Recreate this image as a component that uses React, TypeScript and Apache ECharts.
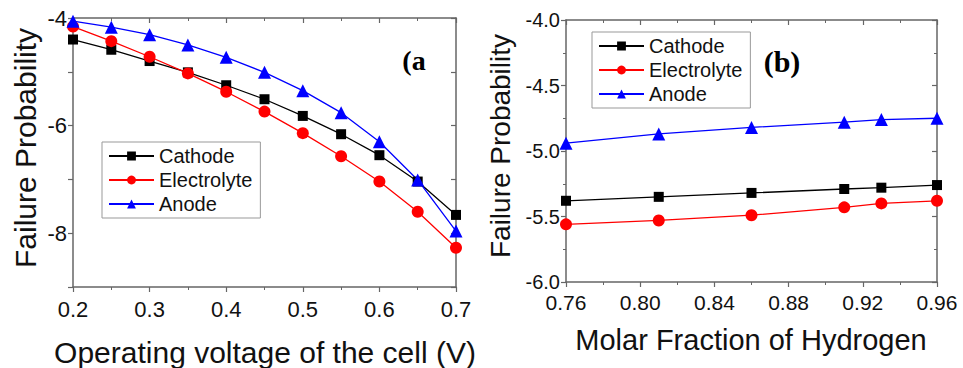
import React, { useEffect, useRef } from "react";
import * as echarts from "echarts";

// Panel (a): operating voltage
const voltage = [0.2, 0.25, 0.3, 0.35, 0.4, 0.45, 0.5, 0.55, 0.6, 0.65, 0.7];
const cathodeA = [-4.4, -4.59, -4.8, -5.01, -5.25, -5.51, -5.82, -6.16, -6.55, -7.04, -7.66];
const electrolyteA = [-4.16, -4.43, -4.72, -5.03, -5.37, -5.74, -6.14, -6.57, -7.04, -7.6, -8.27];
const anodeA = [-4.06, -4.17, -4.31, -4.5, -4.73, -5.01, -5.35, -5.76, -6.3, -7.01, -7.96];

// Panel (b): molar fraction of hydrogen
const fraction = [0.76, 0.81, 0.86, 0.91, 0.93, 0.96];
const cathodeB = [-5.38, -5.35, -5.32, -5.29, -5.28, -5.26];
const electrolyteB = [-5.56, -5.53, -5.49, -5.43, -5.4, -5.38];
const anodeB = [-4.94, -4.87, -4.82, -4.78, -4.76, -4.75];

const seriesNames = ["Cathode", "Electrolyte", "Anode"];
const seriesColors = ["#000000", "#ff0000", "#0000ff"];
const seriesSymbols = ["rect", "circle", "triangle"];

const FONT = "'Liberation Sans', Arial, sans-serif";
const AXIS_COLOR = "#666";

const zip = (xs: number[], ys: number[]) => xs.map((x, i) => [x, ys[i]]);

export default function App() {
  const ref = useRef<HTMLDivElement>(null);
  useEffect(() => {
    if (!ref.current) return;
    const chart = echarts.init(ref.current, null, { renderer: "svg" });

    const axisLine = { show: true, lineStyle: { color: AXIS_COLOR, width: 1.5 } };
    const mkX = (gridIndex: number, min: number, max: number, interval: number, pos: string, digits: number, margin: number, fontSize: number) => ({
      type: "value",
      gridIndex,
      position: pos,
      min,
      max,
      interval,
      axisLine,
      axisTick: { show: true, inside: pos === "top", length: 5, lineStyle: { color: AXIS_COLOR, width: 1.2 } },
      minorTick: { show: true, splitNumber: 2, length: 3, lineStyle: { color: AXIS_COLOR, width: 1 } },
      axisLabel: {
        show: pos === "bottom",
        fontSize,
        fontFamily: FONT,
        color: "#111",
        margin,
        formatter: (v: number) => v.toFixed(digits),
      },
      splitLine: { show: false },
    });
    const mkY = (gridIndex: number, min: number, max: number, interval: number, pos: string, fmt: (v: number) => string, minor: boolean, fontSize: number) => ({
      type: "value",
      gridIndex,
      position: pos,
      min,
      max,
      interval,
      axisLine,
      axisTick: { show: true, inside: pos === "right", length: 5, lineStyle: { color: AXIS_COLOR, width: 1.2 } },
      minorTick: { show: minor, splitNumber: 2, length: 3, lineStyle: { color: AXIS_COLOR, width: 1 } },
      axisLabel: {
        show: pos === "left",
        fontSize,
        fontFamily: FONT,
        color: "#111",
        margin: 6,
        formatter: fmt,
      },
      splitLine: { show: false },
    });

    const fmtA = (v: number) => (Math.round(v) % 2 === 0 ? String(Math.round(v)) : "");
    const fmtB = (v: number) => v.toFixed(1);

    const dataA = [cathodeA, electrolyteA, anodeA];
    const dataB = [cathodeB, electrolyteB, anodeB];
    const symSize = [10, 12, 13];

    const series: any[] = [];
    seriesNames.forEach((name, i) => {
      series.push({
        name,
        type: "line",
        xAxisIndex: 0,
        yAxisIndex: 0,
        data: zip(voltage, dataA[i]),
        symbol: seriesSymbols[i],
        symbolSize: symSize[i],
        lineStyle: { color: seriesColors[i], width: 1.3 },
        itemStyle: { color: seriesColors[i] },
      });
    });
    seriesNames.forEach((name, i) => {
      series.push({
        name,
        type: "line",
        xAxisIndex: 2,
        yAxisIndex: 2,
        data: zip(fraction, dataB[i]),
        symbol: seriesSymbols[i],
        symbolSize: symSize[i],
        lineStyle: { color: seriesColors[i], width: 1.3 },
        itemStyle: { color: seriesColors[i] },
      });
    });

    const legendBase = {
      orient: "vertical",
      data: seriesNames,
      itemWidth: 45,
      itemHeight: 11,
      itemGap: 4,
      borderColor: "#999",
      borderWidth: 1,
      padding: [4, 8, 4, 6],
      textStyle: { fontSize: 20, fontFamily: FONT, color: "#111", padding: [0, 0, 0, 0] },
      selectedMode: false,
    };

    chart.setOption({
      animation: false,
      backgroundColor: "#fff",
      grid: [
        { left: 73, top: 18, width: 383, height: 269 },
        { left: 566, top: 20, width: 371, height: 262 },
      ],
      xAxis: [
        mkX(0, 0.2, 0.7, 0.1, "bottom", 1, 11, 22),
        mkX(0, 0.2, 0.7, 0.1, "top", 1, 11, 22),
        mkX(1, 0.76, 0.96, 0.04, "bottom", 2, 10, 21),
        mkX(1, 0.76, 0.96, 0.04, "top", 2, 10, 21),
      ],
      yAxis: [
        mkY(0, -9, -4, 1, "left", fmtA, false, 22),
        mkY(0, -9, -4, 1, "right", fmtA, false, 22),
        mkY(1, -6, -4, 0.5, "left", fmtB, true, 20),
        mkY(1, -6, -4, 0.5, "right", fmtB, true, 20),
      ],
      legend: [
        { ...legendBase, left: 102, top: 142 },
        { ...legendBase, left: 592, top: 32 },
      ],
      graphic: [
        {
          type: "text",
          x: 25,
          y: 148,
          rotation: Math.PI / 2,
          style: { text: "Failure Probability", fontSize: 30, fontFamily: FONT, fill: "#111", align: "center", verticalAlign: "middle" },
        },
        {
          type: "text",
          x: 500,
          y: 146,
          rotation: Math.PI / 2,
          style: { text: "Failure Probability", fontSize: 28, fontFamily: FONT, fill: "#111", align: "center", verticalAlign: "middle" },
        },
        {
          type: "text",
          x: 265,
          y: 352,
          style: { text: "Operating voltage of the cell (V)", fontSize: 30, fontFamily: FONT, fill: "#111", align: "center", verticalAlign: "middle" },
        },
        {
          type: "text",
          x: 751,
          y: 340,
          style: { text: "Molar Fraction of Hydrogen", fontSize: 29, fontFamily: FONT, fill: "#111", align: "center", verticalAlign: "middle" },
        },
        {
          type: "text",
          x: 414,
          y: 60,
          style: { text: "(a", fontSize: 28, fontWeight: "bold", fontFamily: "'Liberation Serif', 'Times New Roman', serif", fill: "#000", align: "center", verticalAlign: "middle" },
        },
        {
          type: "text",
          x: 782,
          y: 61,
          style: { text: "(b)", fontSize: 30, fontWeight: "bold", fontFamily: "'Liberation Serif', 'Times New Roman', serif", fill: "#000", align: "center", verticalAlign: "middle" },
        },
      ],
      series,
    });

    return () => chart.dispose();
  }, []);

  return <div ref={ref} style={{ width: 963, height: 368, position: "absolute", left: 0, top: 0 }} />;
}
